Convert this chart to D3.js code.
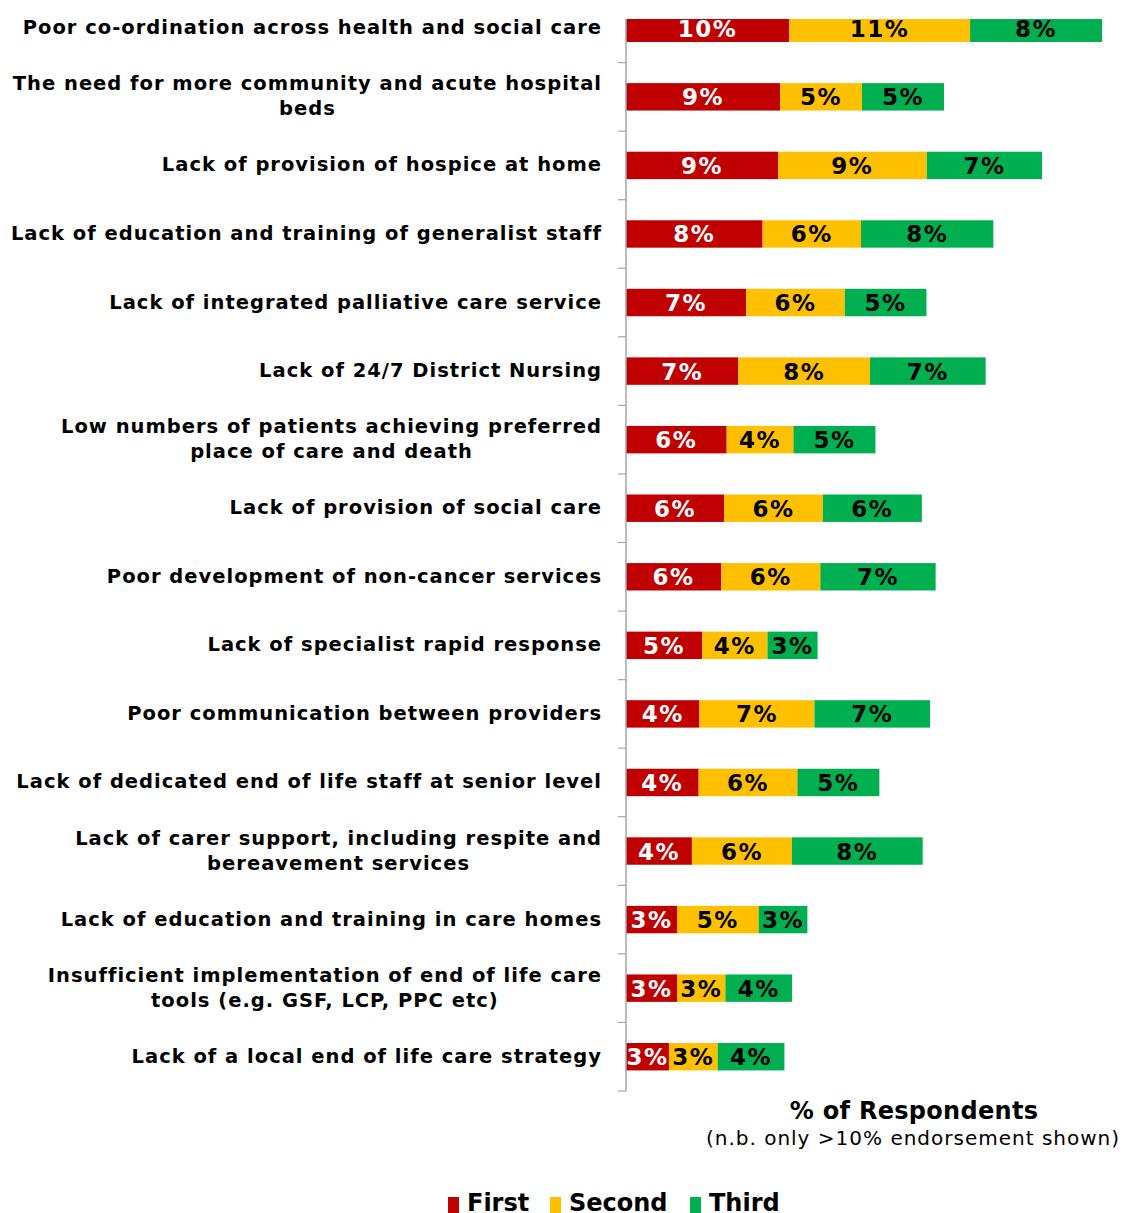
<!DOCTYPE html>
<html>
<head>
<meta charset="utf-8">
<script src="https://cdn.jsdelivr.net/npm/d3@7"></script>
<style>
  body { margin: 0; background: #fff; }
  svg { display: block; }
</style>
</head>
<body>
<div id="chart"></div>
<script>
// data (% of respondents)
const categories = [
  "Poor co-ordination across health and social care",
  "The need for more community and acute hospital\nbeds",
  "Lack of provision of hospice at home",
  "Lack of education and training of generalist staff",
  "Lack of integrated palliative care service",
  "Lack of 24/7 District Nursing",
  "Low numbers of patients achieving preferred\nplace of care and death",
  "Lack of provision of social care",
  "Poor development of non-cancer services",
  "Lack of specialist rapid response",
  "Poor communication between providers",
  "Lack of dedicated end of life staff at senior level",
  "Lack of carer support, including respite and\nbereavement services",
  "Lack of education and training in care homes",
  "Insufficient implementation of end of life care\ntools (e.g. GSF, LCP, PPC etc)",
  "Lack of a local end of life care strategy"
];
const first  = [9.94, 9.39, 9.27, 8.33, 7.32, 6.85, 6.14, 5.98, 5.81, 4.65, 4.48, 4.43, 4.02, 3.11, 3.11, 2.62];
const second = [11.04, 5.0, 9.07, 6.0, 6.02, 8.03, 4.07, 6.02, 6.04, 3.98, 7.01, 6.02, 6.1, 4.98, 2.95, 2.97];
const third  = [8.05, 5.0, 7.03, 8.07, 4.98, 7.05, 5.0, 6.04, 7.03, 3.05, 7.05, 5.0, 7.97, 2.97, 4.07, 4.07];
const seriesNames = ["First", "Second", "Third"];

const colors = ["#c00000", "#ffc000", "#00b050"];
const textColors = ["#fff", "#000", "#000"];

const W = 1123, H = 1213;
const axisX = 626;

const svg = d3.select("#chart").append("svg")
    .attr("width", W).attr("height", H)
    .style("background-color", "#fff");

const rows = categories.map((c, i) => ({name: c, First: first[i], Second: second[i], Third: third[i]}));
const stack = d3.stack().keys(seriesNames)(rows);

const x = d3.scaleLinear().domain([0, 30]).range([axisX, axisX + 492]);
const y = d3.scaleBand().domain(categories).range([-6, 1091]).paddingInner(0.6).paddingOuter(0.3);

// plot area is cut off at the top in the original
svg.append("clipPath").attr("id", "plotclip")
  .append("rect").attr("x", 0).attr("y", 19).attr("width", W).attr("height", H);

const plot = svg.append("g").attr("clip-path", "url(#plotclip)");

const layers = plot.selectAll("g.layer")
    .data(stack)
    .enter().append("g")
    .attr("class", "layer");

layers.selectAll("rect")
    .data(d => d.map(p => ({p: p, key: d.key, idx: d.index})))
    .enter().append("rect")
    .attr("x", d => x(d.p[0]))
    .attr("y", d => y(d.p.data.name))
    .attr("width", d => x(d.p[1]) - x(d.p[0]))
    .attr("height", y.bandwidth())
    .attr("fill", d => colors[d.idx]);

layers.selectAll("text")
    .data(d => d.map(p => ({p: p, key: d.key, idx: d.index})))
    .enter().append("text")
    .attr("x", d => (x(d.p[0]) + x(d.p[1])) / 2)
    .attr("y", d => y(d.p.data.name) + y.bandwidth() / 2 + 8.5)
    .attr("text-anchor", "middle")
    .style("font-family", "DejaVu Sans")
    .style("font-weight", "bold")
    .style("font-size", "23px")
    .style("letter-spacing", "1.5px")
    .attr("fill", d => textColors[d.idx])
    .text(d => Math.round(d.p[1] - d.p[0]) + "%");

// category axis: line plus ticks between categories
const bounds = categories.map(c => y(c) - y.step() * y.paddingInner() / 2);
bounds.push(y.range()[1]);
plot.append("line")
    .attr("x1", axisX).attr("x2", axisX)
    .attr("y1", y.range()[0]).attr("y2", y.range()[1])
    .attr("stroke", "#a6a6a6").attr("stroke-width", 1.5);
plot.selectAll("line.tick")
    .data(bounds)
    .enter().append("line")
    .attr("class", "tick")
    .attr("x1", axisX - 8).attr("x2", axisX)
    .attr("y1", d => d).attr("y2", d => d)
    .attr("stroke", "#a6a6a6").attr("stroke-width", 1.2);

// category labels, lines centred on the widest line, block right aligned
const labelRight = 602;
categories.forEach(c => {
  const lines = c.split("\n");
  const g = svg.append("g");
  const cy = y(c) + y.bandwidth() / 2;
  const lh = 25;
  const texts = lines.map((l, j) => g.append("text")
      .attr("y", cy - (lines.length - 1) * lh / 2 + j * lh + 6)
      .style("font-family", "DejaVu Sans")
      .style("font-weight", "bold")
      .style("font-size", "19.5px")
      .style("letter-spacing", "1px")
      .attr("fill", "#000")
      .attr("text-anchor", "middle")
      .text(l));
  const maxW = d3.max(texts, t => t.node().getComputedTextLength());
  texts.forEach(t => t.attr("x", labelRight - maxW / 2));
});

// axis title
svg.append("text")
    .attr("x", 914).attr("y", 1119)
    .attr("text-anchor", "middle")
    .style("font-family", "DejaVu Sans")
    .style("font-weight", "bold")
    .style("font-size", "24px")
    .style("letter-spacing", "0.3px")
    .text("% of Respondents");
svg.append("text")
    .attr("x", 913).attr("y", 1145)
    .attr("text-anchor", "middle")
    .style("font-family", "DejaVu Sans")
    .style("font-size", "20px")
    .style("letter-spacing", "1px")
    .text("(n.b. only >10% endorsement shown)");

// legend (cut off at the bottom edge, as in the original)
const legendX = [448, 550, 690];
const legend = svg.selectAll("g.legend")
    .data(seriesNames)
    .enter().append("g")
    .attr("class", "legend")
    .attr("transform", (d, i) => "translate(" + legendX[i] + ",0)");
legend.append("rect")
    .attr("x", 0).attr("y", 1197)
    .attr("width", 11).attr("height", 16)
    .attr("fill", (d, i) => colors[i]);
legend.append("text")
    .attr("x", 19).attr("y", 1211)
    .style("font-family", "DejaVu Sans")
    .style("font-weight", "bold")
    .style("font-size", "24px")
    .text(d => d);
</script>
</body>
</html>
